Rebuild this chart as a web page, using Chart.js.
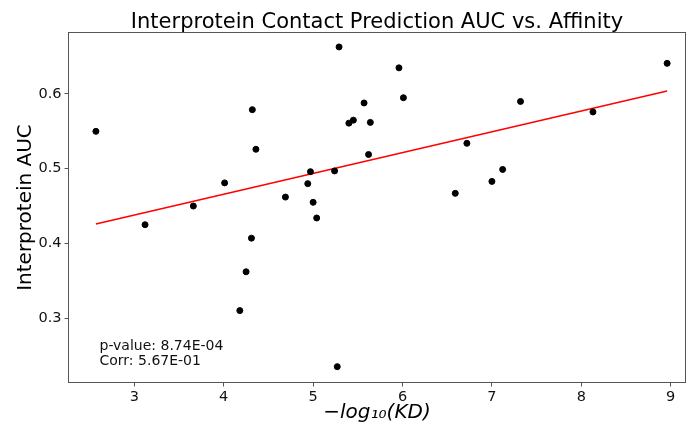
<!doctype html>
<html lang="en">
<head>
  <meta charset="utf-8">
  <title>Interprotein Contact Prediction AUC vs. Affinity</title>
  <script src="https://cdn.jsdelivr.net/npm/chart.js"></script>
  <style>
    html, body { margin: 0; padding: 0; background: #fff; }
    #wrap { width: 686px; height: 428px; }
  </style>
</head>
<body>
<div id="wrap"><canvas id="myChart"></canvas></div>

<script>
  // -log10(KD) of each complex and its interprotein contact AUC
  const affinity = [2.57, 3.12, 3.66, 4.01, 4.32, 4.36, 4.31, 4.25, 4.18, 4.69,
                    4.94, 4.97, 5.00, 5.04, 5.24, 5.29, 5.27, 5.40, 5.45, 5.57,
                    5.64, 5.62, 5.96, 6.01, 6.72, 6.59, 7.00, 7.12, 7.32, 8.13, 8.96];
  const aucValues = [0.550, 0.425, 0.450, 0.481, 0.579, 0.526, 0.407, 0.362, 0.310, 0.462,
                     0.480, 0.496, 0.455, 0.434, 0.497, 0.663, 0.235, 0.561, 0.565, 0.588,
                     0.562, 0.519, 0.635, 0.595, 0.534, 0.467, 0.483, 0.499, 0.590, 0.576, 0.641];

  // linear fit end points
  const fitX = [2.57, 8.96];
  const fitY = [0.426, 0.604];

  const xTicks = [3, 4, 5, 6, 7, 8, 9];
  const yTicks = [0.3, 0.4, 0.5, 0.6];

  const statLines = ['p-value: 8.74E-04', 'Corr: 5.67E-01'];
  const titleText = 'Interprotein Contact Prediction AUC vs. Affinity';

  const FONT = '"DejaVu Sans", sans-serif';

  const scatterPoints = affinity.map((x, i) => ({x: x, y: aucValues[i]}));
  const fitPoints = fitX.map((x, i) => ({x: x, y: fitY[i]}));

  // frame, title and stats text, like the matplotlib figure
  const extras = {
    id: 'extras',
    afterDraw(chart) {
      const ctx = chart.ctx;
      const a = chart.chartArea;
      ctx.save();
      ctx.strokeStyle = '#555';
      ctx.lineWidth = 1;
      ctx.strokeRect(a.left + 0.5, a.top + 0.5, a.right - a.left - 1, a.bottom - a.top - 1);

      ctx.fillStyle = '#000';
      ctx.textAlign = 'center';
      ctx.textBaseline = 'alphabetic';
      ctx.font = '21px ' + FONT;
      ctx.fillText(titleText, (a.left + a.right) / 2, 27.5);

      ctx.textAlign = 'left';
      ctx.font = '14px ' + FONT;
      ctx.fillStyle = '#111';
      ctx.fillText(statLines[0], 99.5, 350);
      ctx.fillText(statLines[1], 99.5, 365);
      ctx.restore();
    }
  };

  const config = {
    type: 'scatter',
    data: {
      datasets: [{
        label: 'AUC',
        data: scatterPoints,
        backgroundColor: '#000',
        borderColor: '#000',
        pointRadius: 3,
        pointHoverRadius: 3
      }, {
        label: 'fit',
        type: 'line',
        data: fitPoints,
        borderColor: 'rgb(255, 0, 0)',
        borderWidth: 1.5,
        pointRadius: 0,
        fill: false
      }]
    },
    options: {
      responsive: true,
      maintainAspectRatio: false,
      animation: false,
      layout: { autoPadding: false, padding: { top: 32, right: 0, bottom: 0, left: 0 } },
      scales: {
        x: {
          type: 'linear',
          min: 2.258,
          max: 9.171,
          afterBuildTicks: s => { s.ticks = xTicks.map(v => ({value: v})); },
          afterFit: s => { s.height = 45; s.paddingLeft = 0; s.paddingRight = 0; },
          border: { display: false },
          grid: { drawOnChartArea: false, drawTicks: true, tickLength: 3.5, color: '#555' },
          ticks: {
            color: '#111',
            padding: 2.5,
            maxRotation: 0,
            font: { family: FONT, size: 14.5 },
            callback: v => String(v)
          },
          title: {
            display: true,
            text: '\u2212log\u2081\u2080(KD)',
            color: '#000',
            padding: { top: 0, bottom: 3 },
            font: { family: FONT, size: 20, style: 'italic' }
          }
        },
        y: {
          min: 0.2131,
          max: 0.683,
          afterBuildTicks: s => { s.ticks = yTicks.map(v => ({value: v})); },
          afterFit: s => { s.width = 68; s.paddingTop = 0; s.paddingBottom = 0; },
          border: { display: false },
          grid: { drawOnChartArea: false, drawTicks: true, tickLength: 3.5, color: '#555' },
          ticks: {
            color: '#111',
            padding: 3,
            font: { family: FONT, size: 14.5 },
            callback: v => v.toFixed(1)
          },
          title: {
            display: true,
            text: 'Interprotein AUC',
            color: '#000',
            padding: { top: 14, bottom: 0 },
            font: { family: FONT, size: 20 }
          }
        }
      },
      plugins: {
        legend: { display: false },
        tooltip: { enabled: false },
        title: { display: false }
      }
    },
    plugins: [extras]
  };

  window.onload = function () {
    const ctx = document.getElementById('myChart').getContext('2d');
    new Chart(ctx, config);
  };
</script>
</body>
</html>
